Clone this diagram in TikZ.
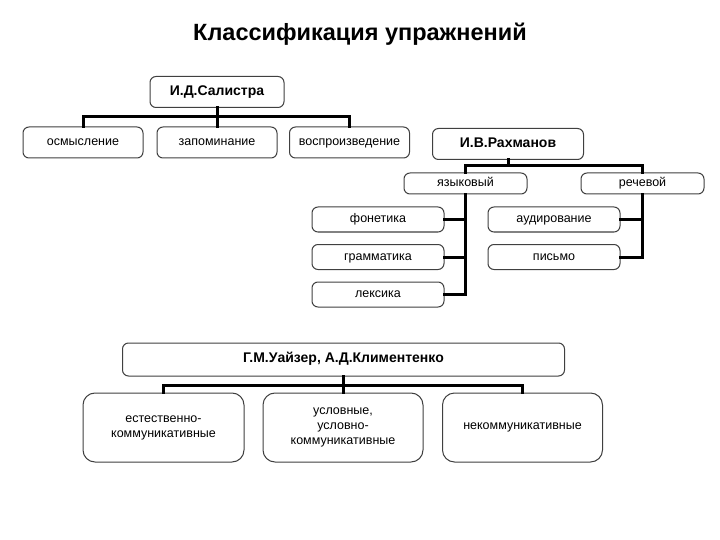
\documentclass[tikz,border=0pt]{standalone}
\usepackage{fontspec}
\setmainfont{Liberation Sans}
\begin{document}
\begin{tikzpicture}[x=1pt,y=-1pt,
  box/.style={draw=black!75, line width=1pt, rounded corners=6pt, fill=white,
    inner sep=0pt, text height=0.76em, text depth=0.14em, font=\fontsize{12.5}{14}\selectfont},
  head/.style={box, font=\fontsize{14}{16}\bfseries},
  bigbox/.style={draw=black!75, line width=1pt, rounded corners=12pt, fill=white,
    inner sep=0pt, align=center, font=\fontsize{12.5}{15}\selectfont},
  conn/.style={line width=3pt, black, line cap=rect}]
\useasboundingbox (0,0) rectangle (720,540);
\node[font=\fontsize{23.5}{26}\bfseries, anchor=base] (title) at (360,40.5) {Классификация упражнений};

% Salistra
\node[head, minimum width=134pt, minimum height=31pt] (sal) at (217,92) {И.Д.Салистра};
\node[box, minimum width=120pt, minimum height=31pt] (osm) at (83,142.5) {осмысление};
\node[box, minimum width=120pt, minimum height=31pt] (zap) at (217,142.5) {запоминание};
\node[box, minimum width=120pt, minimum height=31pt] (vos) at (349.5,142.5) {воспроизведение};
\coordinate (salj) at (217,117);
\draw[conn] (sal.south) -- (salj);
\draw[conn] (osm.north) -- (osm.north |- salj) -- (vos.north |- salj) -- (vos.north);
\draw[conn] (zap.north) -- (zap.north |- salj);

% Rakhmanov
\node[head, minimum width=151pt, minimum height=31pt] (rah) at (508,144) {И.В.Рахманов};
\node[box, minimum width=123pt, minimum height=21pt] (yaz) at (465.5,183.5) {языковый};
\node[box, minimum width=123pt, minimum height=21pt] (rech) at (642.5,183.5) {речевой};
\coordinate (rahj) at (508,166);
\draw[conn] (rah.south) -- (rahj);
\draw[conn] (yaz.north) -- (yaz.north |- rahj) -- (rech.north |- rahj) -- (rech.north);
\node[box, minimum width=132pt, minimum height=25pt] (fon) at (378,219.5) {фонетика};
\node[box, minimum width=132pt, minimum height=25pt] (gram) at (378,257) {грамматика};
\node[box, minimum width=132pt, minimum height=25pt] (lex) at (378,294.5) {лексика};
\draw[conn] (yaz.south) |- (lex.east);
\draw[conn] (fon.east) -- (fon.east -| yaz.south);
\draw[conn] (gram.east) -- (gram.east -| yaz.south);
\node[box, minimum width=132pt, minimum height=25pt] (aud) at (554,219.5) {аудирование};
\node[box, minimum width=132pt, minimum height=25pt] (pis) at (554,257) {письмо};
\draw[conn] (rech.south) |- (pis.east);
\draw[conn] (aud.east) -- (aud.east -| rech.south);

% Uizer
\node[head, minimum width=442pt, minimum height=33pt] (uiz) at (343.5,359.5) {Г.М.Уайзер, А.Д.Климентенко};
\node[bigbox, minimum width=161pt, minimum height=69pt] (est) at (163.5,427.5) {естественно-\\коммуникативные};
\node[bigbox, minimum width=160pt, minimum height=69pt] (usl) at (343,427.5) {условные,\\условно-\\коммуникативные};
\node[bigbox, minimum width=160pt, minimum height=69pt] (nek) at (522.5,427.5) {некоммуникативные};
\coordinate (uizj) at (343.5,385);
\draw[conn] (uiz.south) -- (uizj);
\draw[conn] (est.north) -- (est.north |- uizj) -- (nek.north |- uizj) -- (nek.north);
\draw[conn] (usl.north) -- (usl.north |- uizj);
\end{tikzpicture}
\end{document}
